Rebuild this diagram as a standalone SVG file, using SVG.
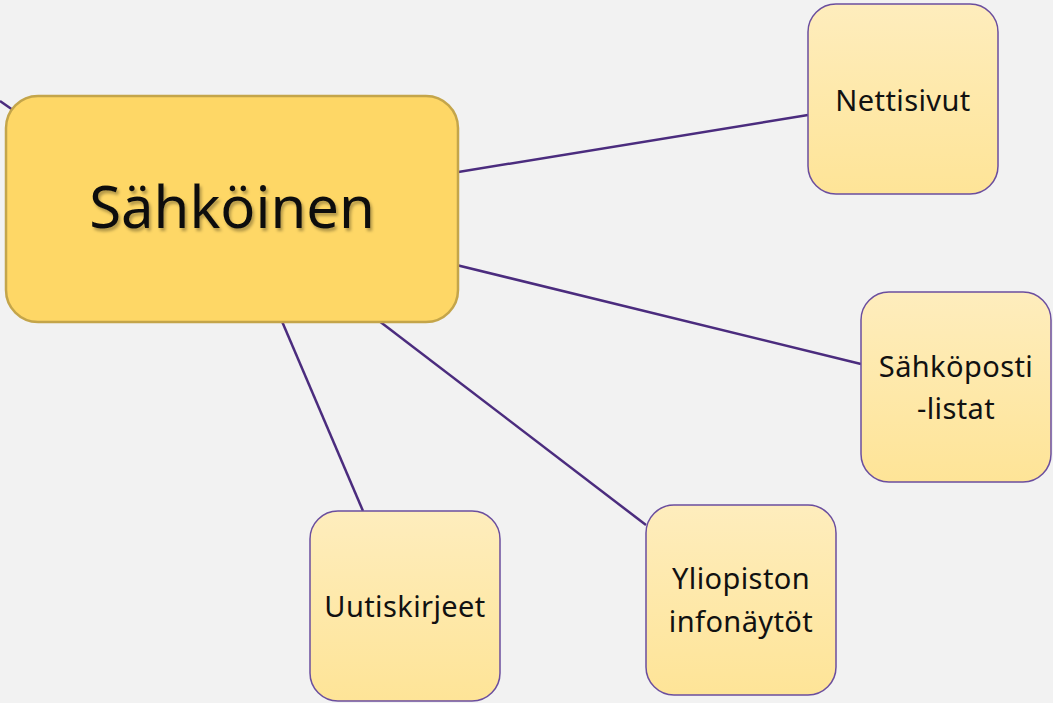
<svg xmlns="http://www.w3.org/2000/svg" width="1053" height="703" viewBox="0 0 1053 703">
<defs>
<linearGradient id="g" x1="0" y1="0" x2="0" y2="1">
<stop offset="0" stop-color="#feedbd"/>
<stop offset="1" stop-color="#fee497"/>
</linearGradient>
<filter id="ts" x="-10%" y="-20%" width="120%" height="150%">
<feDropShadow dx="2" dy="3" stdDeviation="1.5" flood-color="#000" flood-opacity="0.3"/>
</filter>
</defs>
<style>
.edge{stroke:#4b2c7e;stroke-width:2.5;fill:none}
.leaf{fill:url(#g);stroke:#6b4e9e;stroke-width:1.5}
.lt{font-family:"Noto Sans","DejaVu Sans",sans-serif;font-size:29px;letter-spacing:0.4px;fill:#111;text-anchor:middle}
.mt{font-family:"Noto Sans","DejaVu Sans",sans-serif;font-size:58px;fill:#111;text-anchor:middle}
</style>
<rect width="1053" height="703" fill="#f2f2f2"/>
<g id="connectors">
<line class="edge" x1="0" y1="101" x2="40" y2="129"/>
<line class="edge" x1="440" y1="175" x2="808" y2="115"/>
<line class="edge" x1="440" y1="261" x2="861" y2="364"/>
<line class="edge" x1="370" y1="314" x2="646" y2="525"/>
<line class="edge" x1="278" y1="312" x2="363" y2="511"/>
</g>
<g id="main">
<rect x="6" y="96" width="452" height="226" rx="32" fill="#fed766" stroke="#c4a54a" stroke-width="2.5"/>
<text class="mt" x="232" y="228" filter="url(#ts)">Sähköinen</text>
</g>
<g id="nettisivut">
<rect class="leaf" x="808" y="4" width="190" height="190" rx="28"/>
<text class="lt" x="903" y="111">Nettisivut</text>
</g>
<g id="sahkoposti">
<rect class="leaf" x="861" y="292" width="190" height="190" rx="28"/>
<text class="lt" x="956" y="377">Sähköposti</text>
<text class="lt" x="956" y="419">-listat</text>
</g>
<g id="uutiskirjeet">
<rect class="leaf" x="310" y="511" width="190" height="190" rx="28"/>
<text class="lt" x="405" y="617">Uutiskirjeet</text>
</g>
<g id="yliopiston">
<rect class="leaf" x="646" y="505" width="190" height="190" rx="28"/>
<text class="lt" x="741" y="589">Yliopiston</text>
<text class="lt" x="741" y="632">infonäytöt</text>
</g>
</svg>
